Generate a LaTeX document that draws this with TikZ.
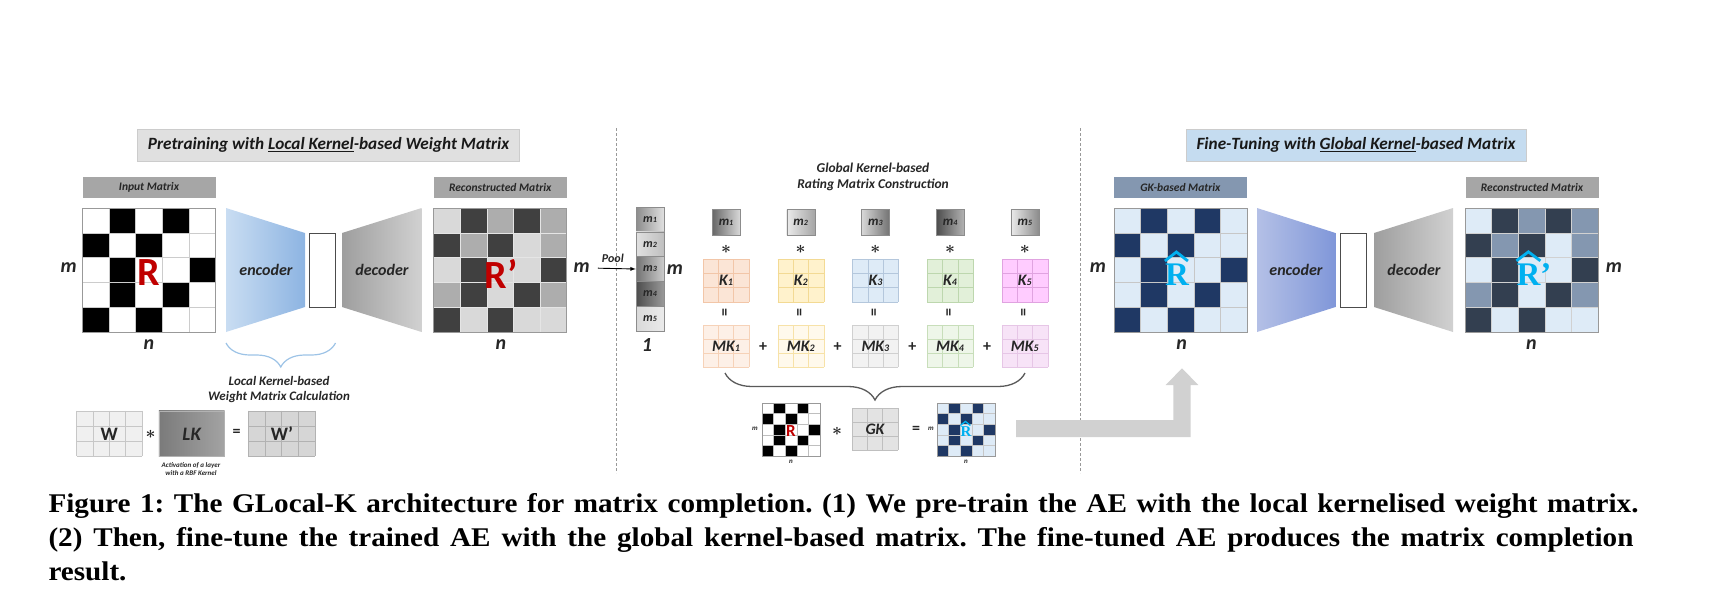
\documentclass[tikz,border=0pt]{standalone}
\usepackage{fontspec}
\setmainfont{Liberation Serif}
\setsansfont{Carlito}
\newfontfamily\capfont[FakeStretch=1.08]{Liberation Serif}
\usetikzlibrary{decorations.pathreplacing}

\definecolor{navy}{HTML}{1F3864}
\definecolor{paleblue}{HTML}{DEEBF7}
\definecolor{slate}{HTML}{333F50}
\definecolor{steel}{HTML}{8497B0}
\definecolor{darkred}{HTML}{C00000}
\definecolor{skyblue}{HTML}{00B0F0}
\definecolor{titlegray}{HTML}{E0E0E0}
\definecolor{titleblue}{HTML}{C5DCF0}
\definecolor{taggray}{HTML}{A6A6A6}
\definecolor{encleft}{HTML}{C9DDF2}
\definecolor{encright}{HTML}{8DB4E2}
\definecolor{encleftB}{HTML}{B4C0E6}
\definecolor{encrightB}{HTML}{8097D9}
\definecolor{bracecol}{HTML}{9DC3E6}
% kernel colours (K fill, K grid, MK fill, MK grid)
\definecolor{kA}{HTML}{FBE5D6}\definecolor{kAg}{HTML}{F2C6A8}
\definecolor{mkA}{HTML}{FDF0E7}\definecolor{mkAg}{HTML}{F6D2B8}
\definecolor{kB}{HTML}{FFF2CC}\definecolor{kBg}{HTML}{F3DA94}
\definecolor{mkB}{HTML}{FFF9EC}\definecolor{mkBg}{HTML}{F7E2A8}
\definecolor{kC}{HTML}{DEEBF7}\definecolor{kCg}{HTML}{B4C7DC}
\definecolor{mkC}{HTML}{F2F2F2}\definecolor{mkCg}{HTML}{D0D0D0}
\definecolor{kD}{HTML}{E2F0D9}\definecolor{kDg}{HTML}{BDD7AE}
\definecolor{mkD}{HTML}{EEF6E9}\definecolor{mkDg}{HTML}{C8DEBA}
\definecolor{kE}{HTML}{FFCCFF}\definecolor{kEg}{HTML}{E0A3E0}
\definecolor{mkE}{HTML}{F7E3F7}\definecolor{mkEg}{HTML}{E6C6E6}

\begin{document}
\begin{tikzpicture}[x=1pt, y=-1pt,
    txt/.style={font=\sffamily\bfseries\itshape, text=black!85, inner sep=0pt},
    titlebox/.style={draw=black!20, line width=0.8pt, inner sep=0pt, minimum height=32pt,
      text=black!90, font=\sffamily\bfseries\itshape\fontsize{17.2}{20}\selectfont},
    tagbox/.style={inner sep=0pt, minimum width=133pt, minimum height=21pt, text=black!85,
      font=\sffamily\bfseries\itshape\fontsize{11.5}{14}\selectfont},
    matframe/.style={draw=black!40, line width=0.8pt, inner sep=0pt},
    axislbl/.style={txt, font=\sffamily\bfseries\itshape\fontsize{20}{24}\selectfont},
    coder/.style={txt, font=\sffamily\bfseries\itshape\fontsize{16}{19}\selectfont},
    bottleneck/.style={draw=black!70, fill=white, line width=0.9pt,
      minimum width=26pt, minimum height=74pt, inner sep=0pt},
    bigR/.style={inner sep=0pt, font=\sffamily\bfseries\fontsize{40}{44}\selectfont},
    hatR/.style={inner sep=0pt, text=skyblue, font=\rmfamily\bfseries\fontsize{33}{36}\selectfont},
    hat/.style={skyblue, line width=2.8pt, line join=miter},
    note/.style={txt, align=center, font=\sffamily\bfseries\itshape\fontsize{13}{15.6}\selectfont},
    tinynote/.style={txt, align=center, font=\sffamily\bfseries\itshape\fontsize{7}{8.4}\selectfont},
    wlbl/.style={inner sep=0pt, text=black!85, font=\sffamily\bfseries\fontsize{19}{22}\selectfont},
    op/.style={txt, font=\sffamily\bfseries\fontsize{16}{19}\selectfont},
    astsym/.style={inner sep=0pt, text=black!85, font=\fontsize{17}{19}\selectfont},
    mcell/.style={txt, draw=black!45, minimum width=28pt, minimum height=24.8pt,
      font=\sffamily\bfseries\itshape\fontsize{12}{14}\selectfont},
    scalar/.style={mcell, minimum height=26pt, font=\sffamily\bfseries\itshape\fontsize{13}{15}\selectfont},
    klbl/.style={txt, font=\sffamily\bfseries\itshape\fontsize{16}{19}\selectfont},
    smalltxt/.style={txt, font=\sffamily\bfseries\itshape\fontsize{7}{8}\selectfont},
    divider/.style={black!40, densely dashed, line width=0.8pt},
    capline/.style={anchor=base west, inner sep=0pt, text=black,
      font=\capfont\bfseries\frenchspacing\fontsize{27}{32}\selectfont}]

    % 5x5 rating matrix: top left corner, cell width, cell height, pattern, grid colour
    \def\ratingmat(#1,#2)#3#4#5#6{%
      \foreach \cl [count=\i from 0] in #5 {
        \pgfmathtruncatemacro\row{\i/5}
        \pgfmathtruncatemacro\col{\i-5*\row}
        \filldraw[fill=mat\cl, draw=#6] ({#1+\col*#3},{#2+\row*#4}) rectangle ++(#3,#4);
      }
    }
    % grid lines of a box: corners, columns, rows, colour
    \def\gridbox(#1,#2)(#3,#4)#5#6#7{%
      \foreach \j in {0,...,#5}
        \draw[#7] ({#1+(#3-#1)*\j/#5},#2) -- ({#1+(#3-#1)*\j/#5},#4);
      \foreach \j in {0,...,#6}
        \draw[#7] (#1,{#2+(#4-#2)*\j/#6}) -- (#3,{#2+(#4-#2)*\j/#6});
    }
    \def\idx#1#2{{\fontsize{#1}{#1}\selectfont#2}}
    \def\aster{{\boldmath$\ast$}}

    % Patterns of the matrices
    \def\patin{L,D,L,D,L,D,L,D,L,L,L,D,L,L,D,L,D,L,D,L,D,L,D,L,L}
    \def\patout{L,D,M,D,M,D,M,D,L,M,L,D,L,L,D,M,D,L,D,M,D,L,D,L,L}

    \useasboundingbox (0,0) rectangle (1728,598);

    % Section dividers
    \draw[divider] (616,128) -- (616,473);
    \draw[divider] (1080,128) -- (1080,473);

    % ---------------- Pretraining ----------------
    \node[titlebox, fill=titlegray, minimum width=382pt] (pretitle) at (328.6,145)
      {Pretraining with \underline{Local Kernel}-based Weight Matrix};
    \node[tagbox, fill=taggray] (intag) at (149,187.5) {Input Matrix};
    \node[tagbox, fill=taggray] (outtag) at (500.2,187.5) {Reconstructed Matrix};

    \begin{scope}
      \colorlet{matL}{white}\colorlet{matD}{black}
      \ratingmat(82.4,208){26.6}{24.8}{\patin}{black!20}
    \end{scope}
    \node[matframe, minimum width=133pt, minimum height=124pt] (inmat) at (149,270) {};
    \node[bigR, text=darkred] (inR) at (149,273) {R};
    \node[axislbl] (inm) at (68.6,268) {m};
    \node[axislbl] (inn) at (149,345) {n};

    \shade[left color=encleft, right color=encright] (226,208) -- (305,233) -- (305,307) -- (226,332) -- cycle;
    \node[coder] (enc) at (266,270) {encoder};
    \node[bottleneck] (code) at (322.4,270) {};
    \shade[left color=black!38, right color=black!18] (342,233) -- (421.6,208) -- (421.6,332) -- (342,307) -- cycle;
    \node[coder] (dec) at (382,270) {decoder};

    \begin{scope}
      \colorlet{matL}{black!15}\colorlet{matM}{black!32}\colorlet{matD}{black!75}
      \ratingmat(433.6,208){26.6}{24.8}{\patout}{black!10}
    \end{scope}
    \node[matframe, minimum width=133pt, minimum height=124pt] (outmat) at (500.2,270) {};
    \node[bigR, text=darkred] (outR) at (501,274) {R’};
    \node[axislbl] (outm) at (581.7,268) {m};
    \node[axislbl] (outn) at (500.8,345) {n};

    % Local kernel weight calculation
    \draw[bracecol, line width=1.2pt, decorate, decoration={brace, mirror, amplitude=24pt}]
      (226,343) -- (335.5,343);
    \node[note] (lkcalc) at (279,389.5) {Local Kernel-based\\Weight Matrix Calculation};

    \fill[black!6] (76.5,410.7) rectangle (142,456);
    \gridbox(76.5,410.7)(142,456){4}{3}{black!22}
    \node[wlbl] (W) at (109.2,434) {W};
    \node[astsym] (mulW) at (150.5,434) {\aster};
    \shade[left color=black!52, right color=black!36] (158.8,410.7) rectangle (224.6,456);
    \draw[black!30] (158.8,410.7) rectangle (224.6,456);
    \node[wlbl, font=\sffamily\bfseries\itshape\fontsize{19}{22}\selectfont] (LK) at (191.7,434) {LK};
    \node[op] (eqW) at (236.6,433) {=};
    \fill[black!16] (248.4,410.7) rectangle (314.8,456);
    \gridbox(248.4,410.7)(314.8,456){4}{3}{black!30}
    \node[wlbl] (Wp) at (282,434) {W’};
    \node[tinynote] (rbfnote) at (191,469) {Activation of a layer\\with a RBF Kernel};

    % ---------------- Global kernel ----------------
    \foreach \i/\lc/\rc in {1/black!45/black!12, 2/black!12/black!25, 3/black!55/black!20,
                            4/black!70/black!40, 5/black!15/black!8} {
      \node[mcell, left color=\lc, right color=\rc] (mcol\i) at (650,{207+24.8*(\i-0.5)}) {m\idx{8}{\i}};
    }
    \draw[-latex, line width=0.9pt, shorten <=8pt] (outm.east) -- node[txt, above=5pt,
      font=\sffamily\bfseries\itshape\fontsize{12}{14}\selectfont] (pool) {Pool} (mcol3.west);
    \node[axislbl] (colm) at (675,270) {m};
    \node[axislbl] (colone) at (647,345) {1};

    \node[note, font=\sffamily\bfseries\itshape\fontsize{13.5}{16}\selectfont] (gktitle) at (873,177)
      {Global Kernel-based\\Rating Matrix Construction};

    \foreach \i/\lc/\rc/\fc/\gc/\mf/\mg in {1/black!60/black!15/kA/kAg/mkA/mkAg,
        2/black!8/black!35/kB/kBg/mkB/mkBg, 3/black!15/black!55/kC/kCg/mkC/mkCg,
        4/black!70/black!30/kD/kDg/mkD/mkDg, 5/black!8/black!45/kE/kEg/mkE/mkEg} {
      \pgfmathsetmacro\kx{726+74.7*(\i-1)}
      \pgfmathsetmacro\kl{\kx-23}
      \pgfmathsetmacro\kr{\kx+23}
      \node[scalar, left color=\lc, right color=\rc] (ms\i) at (\kx,222) {m\idx{8}{\i}};
      \node[astsym] (ast\i) at (\kx,249) {\aster};
      \fill[\fc] (\kl,259) rectangle (\kr,302);
      \gridbox(\kl,259)(\kr,302){3}{3}{\gc}
      \node[klbl] (K\i) at (\kx,280.5) {K\idx{10}{\i}};
      \node[op, rotate=90] (eq\i) at (\kx,313) {=};
      \fill[\mf] (\kl,325) rectangle (\kr,367);
      \gridbox(\kl,325)(\kr,367){3}{3}{\mg}
      \node[klbl] (MK\i) at (\kx,346) {MK\idx{10}{\i}};
    }
    \foreach \i in {1,...,4}
      \node[op] (plus\i) at ({763+74.7*(\i-1)},347) {+};

    \draw[black!65, line width=1.3pt, decorate, decoration={brace, mirror, amplitude=27pt}]
      (725,373) -- (1025,373);

    \begin{scope}
      \colorlet{matL}{white}\colorlet{matD}{black}
      \ratingmat(762,403){11.6}{10.6}{\patin}{black!25}
    \end{scope}
    \node[matframe, minimum width=58pt, minimum height=53pt] (smallR) at (791,429.5) {};
    \node[inner sep=0pt, text=darkred, font=\sffamily\bfseries\fontsize{17}{20}\selectfont] (smallRl) at (791,431) {R};
    \node[smalltxt] (smallm) at (755,429) {m};
    \node[smalltxt] (smalln) at (791,462) {n};
    \node[astsym] (mulGK) at (837,431) {\aster};
    \fill[black!11] (852,408) rectangle (898,450);
    \gridbox(852,408)(898,450){3}{3}{black!25}
    \node[klbl] (GK) at (875,429) {GK};
    \node[op] (eqGK) at (916,430) {=};
    \begin{scope}
      \colorlet{matL}{paleblue}\colorlet{matD}{navy}
      \ratingmat(937,403){11.6}{10.6}{\patin}{black!22}
    \end{scope}
    \node[matframe, minimum width=58pt, minimum height=53pt] (smallRhat) at (966,429.5) {};
    \node[hatR, font=\rmfamily\bfseries\fontsize{15}{18}\selectfont] (smallRhatl) at (966,432) {R};
    \draw[hat, line width=1.3pt] (smallRhatl.north west) ++(0,-1.5) -- ++(5,-4) -- ++(5,4);
    \node[smalltxt] (smallmhat) at (931,429) {m};
    \node[smalltxt] (smallnhat) at (966,462) {n};

    % Arrow to the fine-tuning part
    \fill[black!18] (1016,420) -- (1173.3,420) -- (1173.3,385) -- (1165.7,385) -- (1182,368.3)
      -- (1198.3,385) -- (1190.7,385) -- (1190.7,437) -- (1016,437) -- cycle;

    % ---------------- Fine-tuning ----------------
    \node[titlebox, fill=titleblue, minimum width=340pt] (finetitle) at (1356,145)
      {Fine-Tuning with \underline{Global Kernel}-based Matrix};
    \node[tagbox, fill=steel] (gktag) at (1180.4,187.5) {GK-based Matrix};
    \node[tagbox, fill=taggray] (outtagB) at (1532,187.5) {Reconstructed Matrix};

    \begin{scope}
      \colorlet{matL}{paleblue}\colorlet{matD}{navy}
      \ratingmat(1114,208){26.6}{24.8}{\patin}{black!22}
    \end{scope}
    \node[matframe, minimum width=133pt, minimum height=124pt] (gkmat) at (1180.5,270) {};
    \node[hatR] (gkR) at (1177,275) {R};
    \draw[hat] (gkR.north west) ++(0,-3) -- ++(11.5,-9) -- ++(11.5,9);
    \node[axislbl] (gkm) at (1098,268) {m};
    \node[axislbl] (gkn) at (1181.7,345) {n};

    \shade[left color=encleftB, right color=encrightB] (1257,208) -- (1335.5,233) -- (1335.5,307) -- (1257,332) -- cycle;
    \node[coder] (encB) at (1296,270) {encoder};
    \node[bottleneck] (codeB) at (1353.2,270) {};
    \shade[left color=black!38, right color=black!18] (1374,233) -- (1453,208) -- (1453,332) -- (1374,307) -- cycle;
    \node[coder] (decB) at (1414,270) {decoder};

    \begin{scope}
      \colorlet{matL}{paleblue}\colorlet{matM}{steel}\colorlet{matD}{slate}
      \ratingmat(1465,208){26.6}{24.8}{\patout}{black!18}
    \end{scope}
    \node[matframe, minimum width=133pt, minimum height=124pt] (finmat) at (1531.5,270) {};
    \node[hatR] (finR) at (1534,275) {R’};
    \draw[hat] (finR.north west) ++(0,-3) -- ++(12,-9) -- ++(12,9);
    \node[axislbl] (finm) at (1613.8,268) {m};
    \node[axislbl] (finn) at (1531.5,345) {n};

    % Caption
    \node[capline] (cap1) at (48.3,512.7) {\hbox to 1590pt{Figure 1: The GLocal-K architecture for matrix completion. (1) We pre-train the AE with the local kernelised weight matrix.}};
    \node[capline] (cap2) at (48.3,546.7) {\hbox to 1585pt{(2) Then, fine-tune the trained AE with the global kernel-based matrix. The fine-tuned AE produces the matrix completion}};
    \node[capline] (cap3) at (48.3,580) {result.};
\end{tikzpicture}
\end{document}
